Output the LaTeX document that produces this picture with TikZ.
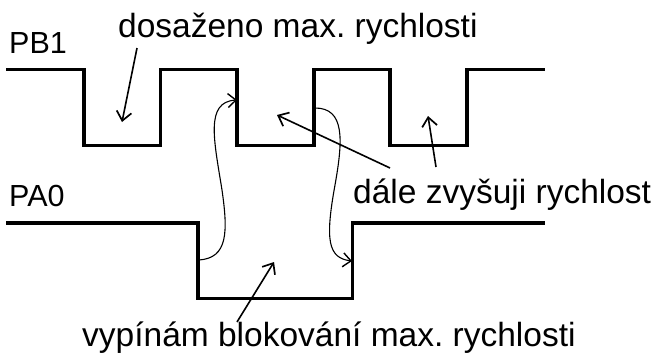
\documentclass[tikz,border=0pt]{standalone}
\usepackage{fontspec}
\setmainfont{Liberation Sans}
\usetikzlibrary{arrows.meta}
\frenchspacing
\begin{document}
\begin{tikzpicture}[x=1pt,y=-1pt,
  txt/.style={inner sep=0pt,anchor=base west,font=\fontsize{33.5}{38}\selectfont},
  sig/.style={inner sep=0pt,anchor=base west,font=\fontsize{30.5}{36}\selectfont},
  signal/.style={line width=3.6pt,line join=miter,line cap=rect},
  pointer/.style={line width=1.6pt,-{Straight Barb[length=9pt,width=15pt,line width=1.7pt]}},
  edgelink/.style={line width=1.1pt,-{Straight Barb[length=8pt,width=14pt,line width=1.4pt]}}]
  \useasboundingbox (0,0) rectangle (658,356);

  % signal traces
  \draw[signal] (8,69.5) -- (84,69.5) -- (84,145.5) -- (160.5,145.5) -- (160.5,69.5)
    -- (237,69.5) -- (237,145.5) -- (314,145.5) -- (314,69.5) -- (390,69.5)
    -- (390,145.5) -- (467,145.5) -- (467,69.5) -- (543,69.5);
  \draw[signal] (8,222.7) -- (198,222.7) -- (198,298.5) -- (352.5,298.5)
    -- (352.5,222.7) -- (543,222.7);

  % labels
  \node[sig] (pb) at (9,53.3) {PB1};
  \node[sig] (pa) at (9,206.7) {PA0};
  \node[txt] (max) at (118,37) {dosaženo max. rychlosti};
  \node[txt] (inc) at (353,203.5) {dále zvyšuji rychlost};
  \node[txt] (blk) at (82,346) {vypínám blokování max. rychlosti};

  % arrow ends
  \coordinate (maxs) at (137,48);
  \coordinate (maxt) at (122,122);
  \coordinate (inca) at (390,168);
  \coordinate (incat) at (277,115);
  \coordinate (incb) at (436,167);
  \coordinate (incbt) at (428,116);
  \coordinate (blks) at (237,322);
  \coordinate (blkt) at (274,262);
  \coordinate (fallA) at (199,260);
  \coordinate (riseB1) at (237,100);
  \coordinate (riseB2) at (315,108);
  \coordinate (riseA) at (352,261);

  \draw[pointer] (maxs) -- (maxt);
  \draw[pointer] (inca) -- (incat);
  \draw[pointer] (incb) -- (incbt);
  \draw[pointer] (blks) -- (blkt);

  % causal links between edges
  \draw[edgelink] (fallA) .. controls (228,258) and (228,232) .. (222,190)
    .. controls (214,140) and (205,102) .. (riseB1);
  \draw[edgelink] (riseB2) .. controls (345,108) and (343,140) .. (335,185)
    .. controls (325,240) and (328,258) .. (riseA);
\end{tikzpicture}
\end{document}
